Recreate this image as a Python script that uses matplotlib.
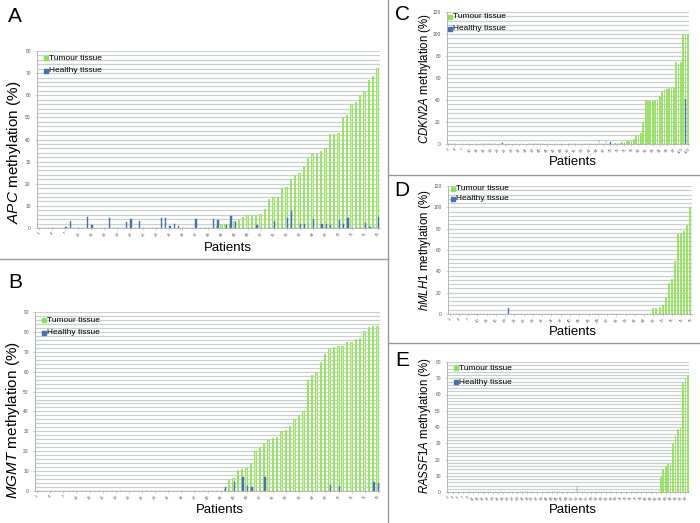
import numpy as np
import matplotlib
matplotlib.use("Agg")
import matplotlib.pyplot as plt

plt.rcParams['font.family'] = ['Liberation Sans', 'DejaVu Sans']
plt.rcParams['mathtext.fontset'] = 'custom'
plt.rcParams['mathtext.it'] = 'Liberation Sans:italic'
plt.rcParams['mathtext.rm'] = 'Liberation Sans'

GREEN_FILL = '#cdf3aa'
GREEN_EDGE = '#8fdf58'
BLUE = '#4670b0'
GRID = '#cad0d0'

# --- data (patients sorted by tumour methylation) ---
# A: APC, 79 patients
apc_n = 79
apc_tumour_start = 42
apc_tumour = [1, 2, 2, 2, 3, 3.5, 5, 6, 6, 6, 6.5, 8.5, 13, 14, 14, 18, 18.5, 22, 24,
              25, 28, 31.5, 33.5, 34, 35, 36, 42.5, 42.5, 43, 50, 51, 56, 57, 60,
              62, 67, 68.5, 72.5]
apc_healthy_pat = [7, 8, 12, 13, 17, 21, 22, 24, 29, 30, 31, 32, 33, 37, 41, 42, 44,
                   45, 46, 51, 55, 58, 59, 61, 62, 64, 66, 67, 68, 70, 71, 72, 76, 77, 79]
apc_healthy_val = [0.5, 3.3, 5, 1.2, 4.5, 2.8, 4, 3, 4.7, 4.5, 0.8, 2, 0.8, 4, 4, 3.5,
                   1.2, 5.5, 2.5, 1.5, 3, 4.5, 7.7, 2, 2, 4, 2, 2, 1.5, 3.5, 2, 4.5,
                   2.2, 0.5, 5]

# B: MGMT, 79 patients
mgmt_n = 79
mgmt_tumour_start = 44
mgmt_tumour = [1, 6, 6.5, 10.5, 11, 11.5, 14, 20, 22, 24, 25.5, 26.5, 27, 30, 30.5,
               32.5, 36, 38, 40, 56, 58.5, 60, 65, 69, 72, 72.5, 73, 73, 75, 75,
               76.5, 77, 80.5, 82.5, 83, 83]
mgmt_healthy_pat = [44, 46, 48, 49, 50, 53, 68, 70, 78, 79]
mgmt_healthy_val = [2, 4.5, 7, 2.5, 2, 7, 3, 2.5, 4.5, 4]

# C: CDKN2A, 103 patients
cdkn_n = 103
cdkn_tumour_start = 72
cdkn_tumour = [0.5, 1, 1, 1.5, 2, 2.5, 3, 4, 5, 8, 8.5, 10, 20, 39, 40, 39, 39, 40,
               40, 44, 48, 50, 50, 51, 52, 52, 75, 74, 75, 100, 100, 100]
cdkn_healthy_pat = [24, 65, 68, 70, 102]
cdkn_healthy_val = [1, 3.6, 3, 2, 41]

# D: hMLH1, 79 patients
mlh_n = 79
mlh_tumour_start = 67
mlh_tumour = [6, 6, 7, 8.5, 16, 29, 33, 50, 75, 76, 78, 83, 100]
mlh_healthy_pat = [20]
mlh_healthy_val = [6]

# E: RASSF1A, 98 patients
rass_n = 98
rass_tumour_start = 87
rass_tumour = [9, 14, 16, 17, 17, 30, 35, 39, 40, 67, 70, 72]
rass_healthy_pat = [53]
rass_healthy_val = [4]


def draw_panel(ax, n, t_start, tumour, h_pat, h_val, ymax, ystep, minor, tickstep):
    pats = np.arange(1, n + 1)
    t = np.zeros(n)
    t[t_start - 1:t_start - 1 + len(tumour)] = tumour
    h = np.zeros(n)
    h[np.array(h_pat) - 1] = h_val
    w = 0.32
    ax.bar(pats - w / 2, t, width=w, color=GREEN_FILL, edgecolor=GREEN_EDGE,
           linewidth=0.6, zorder=3)
    ax.bar(pats + w / 2, h, width=w, color=BLUE, edgecolor=BLUE, linewidth=0.3, zorder=3)
    ax.set_xlim(0.5, n + 0.5)
    ax.set_ylim(0, ymax)
    ax.set_yticks(np.arange(0, ymax + 0.1, ystep))
    ax.set_yticks(np.arange(0, ymax + 0.1, minor), minor=True)
    ax.grid(True, which='both', axis='y', color=GRID, linewidth=0.9, zorder=0)
    ax.set_xticks(np.arange(1, n + 1, tickstep))
    ax.set_xticklabels([str(v) for v in np.arange(1, n + 1, tickstep)],
                       rotation=45, fontsize=3, color='#555555')
    ax.tick_params(axis='y', labelsize=3.5, labelcolor='#555555', length=1.5,
                   width=0.4, color='#aaaaaa', pad=3)
    ax.tick_params(axis='y', which='minor', length=0)
    ax.tick_params(axis='x', length=1.5, width=0.4, color='#aaaaaa', pad=1)
    for s in ['top', 'right']:
        ax.spines[s].set_visible(False)
    for s in ['left', 'bottom']:
        ax.spines[s].set_color('#b5b5b5')
        ax.spines[s].set_linewidth(0.7)
    ax.set_axisbelow(True)


def draw_legend(fig, x, y1, y2, size=6):
    fig.lines.append(plt.Line2D([x], [y1], marker='s', ms=2.2, color=GREEN_EDGE,
                                transform=fig.transFigure, linestyle='none'))
    fig.lines.append(plt.Line2D([x], [y2], marker='s', ms=2.2, color=BLUE,
                                transform=fig.transFigure, linestyle='none'))
    fig.text(x + 0.004, y1, 'Tumour tissue', fontsize=size, va='center', ha='left')
    fig.text(x + 0.004, y2, 'Healthy tissue', fontsize=size, va='center', ha='left')


W, H = 700, 523
fig = plt.figure(figsize=(7, 5.23), dpi=100)


def box(l, r, top, bot):
    return [l / W, 1 - bot / H, (r - l) / W, (bot - top) / H]


def fx(x):
    return x / W


def fy(y):
    return 1 - y / H


axA = fig.add_axes(box(37, 380, 51, 228))
draw_panel(axA, apc_n, apc_tumour_start, apc_tumour, apc_healthy_pat, apc_healthy_val,
           80, 10, 2, 3)
axB = fig.add_axes(box(35, 380, 312, 491))
draw_panel(axB, mgmt_n, mgmt_tumour_start, mgmt_tumour, mgmt_healthy_pat,
           mgmt_healthy_val, 90, 10, 2, 3)
axC = fig.add_axes(box(447, 689, 12, 144))
draw_panel(axC, cdkn_n, cdkn_tumour_start, cdkn_tumour, cdkn_healthy_pat,
           cdkn_healthy_val, 120, 20, 4, 3)
axD = fig.add_axes(box(448, 692, 186, 314))
draw_panel(axD, mlh_n, mlh_tumour_start, mlh_tumour, mlh_healthy_pat, mlh_healthy_val,
           120, 20, 4, 3)
axE = fig.add_axes(box(447, 689, 362, 492))
draw_panel(axE, rass_n, rass_tumour_start, rass_tumour, rass_healthy_pat,
           rass_healthy_val, 80, 10, 2, 2)

# axis titles
fig.text(fx(14), fy(152), r'$\mathit{APC}$ methylation (%)', rotation=90,
         fontsize=11, ha='center', va='center')
fig.text(fx(13), fy(420), r'$\mathit{MGMT}$ methylation (%)', rotation=90,
         fontsize=11, ha='center', va='center')
fig.text(fx(425), fy(78), r'$\mathit{CDKN2A}$ methylation (%)', rotation=90,
         fontsize=8.3, ha='center', va='center')
fig.text(fx(425), fy(250), r'$\mathit{hMLH1}$ methylation (%)', rotation=90,
         fontsize=8.3, ha='center', va='center')
fig.text(fx(425), fy(426), r'$\mathit{RASSF1A}$ methylation (%)', rotation=90,
         fontsize=8.3, ha='center', va='center')

fig.text(fx(228), fy(248), 'Patients', fontsize=9.5, ha='center', va='center')
fig.text(fx(220), fy(510), 'Patients', fontsize=9.5, ha='center', va='center')
fig.text(fx(573), fy(162), 'Patients', fontsize=9.5, ha='center', va='center')
fig.text(fx(573), fy(332), 'Patients', fontsize=9.5, ha='center', va='center')
fig.text(fx(573), fy(510), 'Patients', fontsize=9.5, ha='center', va='center')

# panel letters
fig.text(fx(8), fy(17), 'A', fontsize=15, ha='left', va='center')
fig.text(fx(8), fy(282), 'B', fontsize=15, ha='left', va='center')
fig.text(fx(395), fy(14), 'C', fontsize=15, ha='left', va='center')
fig.text(fx(394), fy(190), 'D', fontsize=15, ha='left', va='center')
fig.text(fx(395), fy(361), 'E', fontsize=15, ha='left', va='center')

# legends
draw_legend(fig, fx(46), fy(58), fy(71))
draw_legend(fig, fx(44), fy(320), fy(333))
draw_legend(fig, fx(450), fy(17), fy(29))
draw_legend(fig, fx(453), fy(189), fy(199))
draw_legend(fig, fx(456), fy(368), fy(382))

# separators
sep = dict(color='#9a9a9a', linewidth=1.0, transform=fig.transFigure)
fig.lines.append(plt.Line2D([fx(388), fx(388)], [0, 1], **sep))
fig.lines.append(plt.Line2D([0, fx(388)], [fy(259), fy(259)], **sep))
fig.lines.append(plt.Line2D([fx(388), 1], [fy(175), fy(175)], **sep))
fig.lines.append(plt.Line2D([fx(388), 1], [fy(343), fy(343)], **sep))

fig.savefig('out.png', dpi=100)
